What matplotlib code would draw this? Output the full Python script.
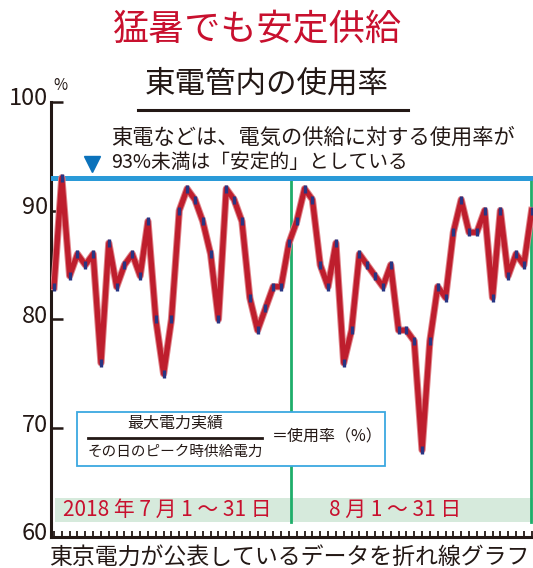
import matplotlib
matplotlib.use('Agg')
import matplotlib.pyplot as plt
import matplotlib.transforms as mtrans
from matplotlib.patches import Rectangle
from matplotlib.lines import Line2D

plt.rcParams['font.family'] = ['Noto Sans CJK JP', 'DejaVu Sans']

# daily usage rate (%)
july = [83, 93, 84, 86, 85, 86, 76, 87, 83, 85, 86, 84, 89, 80, 75, 80,
        90, 92, 91, 89, 86, 80, 92, 91, 89, 82, 79, 81, 83, 83, 87]
august = [89, 92, 91, 85, 83, 87, 76, 79, 86, 85, 84, 83, 85, 79, 79, 78,
          68, 78, 83, 82, 88, 91, 88, 88, 90, 82, 90, 84, 86, 85, 90]
usage = july + august
days = list(range(len(usage)))
stable_line = 93
yticks = [60, 70, 80, 90, 100]

ink = '#231815'
red = '#c8102e'
W, H = 533, 568

fig = plt.figure(figsize=(W / 100, H / 100), dpi=100)
fig.patch.set_facecolor('white')

def fx(x):
    return x / W

def fy(y):
    return 1 - y / H

ax = fig.add_axes([fx(50.7), fy(537), 1 - fx(50.7), (537 - 101.7) / H])
ax.set_xlim(-0.42, 61.17)
ax.set_ylim(60, 100)

for s in ['top', 'right']:
    ax.spines[s].set_visible(False)
for s in ['left', 'bottom']:
    ax.spines[s].set_color(ink)
    ax.spines[s].set_linewidth(2.2)

ax.set_yticks(yticks)
ax.set_yticklabels([str(v) for v in yticks])
ax.tick_params(axis='y', direction='in', length=8.5, width=1.8, color=ink,
               labelsize=17, labelcolor=ink, pad=2)
ax.set_xticks(days)
ax.set_xticklabels([])
ax.tick_params(axis='x', direction='in', length=4.5, width=1.3, color=ink)
shift = mtrans.ScaledTranslation(0, 4 / 72, fig.dpi_scale_trans)
for lab in ax.get_yticklabels():
    lab.set_transform(lab.get_transform() + shift)

# light green band with period labels
ax.add_patch(Rectangle((0.13, 61.35), 61.17 - 0.13, 2.2, facecolor='#d6eadc',
                       edgecolor='none', zorder=1))
ax.text(14.5, 62.45, '2018 年 7 月 1 ～ 31 日', color=red, fontsize=15,
        ha='center', va='center', zorder=2)
ax.text(43.5, 62.45, '8 月 1 ～ 31 日', color=red, fontsize=15,
        ha='center', va='center', zorder=2)

# month separators
for xv in [30.3, 60.95]:
    ax.plot([xv, xv], [stable_line, 61.35], color='#1fae6a', lw=2, zorder=2)

# 93% line and marker
ax.axhline(stable_line, color='#2a9ad8', lw=3.6, zorder=3)
ax.plot([4.85], [94.3], marker='v', ms=12, color='#0b72bb', zorder=4)

# usage line
ax.plot(days, usage, color='#e0848a', lw=5.2, zorder=4, solid_joinstyle='round')
ax.plot(days, usage, color='#be1e2d', lw=3.8, zorder=5, solid_joinstyle='round',
        marker='|', ms=5.5, mew=2.4, mec='#283583')

# formula box
fig.add_artist(Rectangle((fx(77), fy(465.5)), fx(385) - fx(77), (465.5 - 412) / H,
                         transform=fig.transFigure, facecolor='white',
                         edgecolor='#3ba8e0', lw=1.3, zorder=10))
fig.text(fx(175), fy(423), '最大電力実績', fontsize=11.5, color=ink,
         ha='center', va='center', zorder=11)
fig.add_artist(Line2D([fx(88), fx(262)], [fy(437.5), fy(437.5)], color=ink, lw=2,
                      transform=fig.transFigure, zorder=11))
fig.text(fx(175), fy(452), 'その日のピーク時供給電力', fontsize=10.5, color=ink,
         ha='center', va='center', zorder=11)
fig.text(fx(272), fy(437), '＝使用率（%）', fontsize=11.5, color=ink,
         ha='left', va='center', zorder=11)

# titles and notes
fig.text(fx(257), fy(30), '猛暑でも安定供給', fontsize=26, color=red,
         ha='center', va='center')
fig.text(fx(267), fy(84), '東電管内の使用率', fontsize=22, color=ink,
         ha='center', va='center')
fig.add_artist(Line2D([fx(138), fx(408)], [fy(110), fy(110)], color=ink, lw=2.2,
                      transform=fig.transFigure))
fig.text(fx(111), fy(138), '東電などは、電気の供給に対する使用率が', fontsize=15.3,
         color=ink, ha='left', va='center')
fig.text(fx(111), fy(162), '93%未満は「安定的」としている', fontsize=14.2,
         color=ink, ha='left', va='center')
fig.text(fx(60), fy(86), '%', fontsize=11, color=ink, ha='center', va='center')
fig.text(fx(289), fy(557), '東京電力が公表しているデータを折れ線グラフ', fontsize=16.5,
         color=ink, ha='center', va='center')

fig.savefig('out.png', dpi=100)
